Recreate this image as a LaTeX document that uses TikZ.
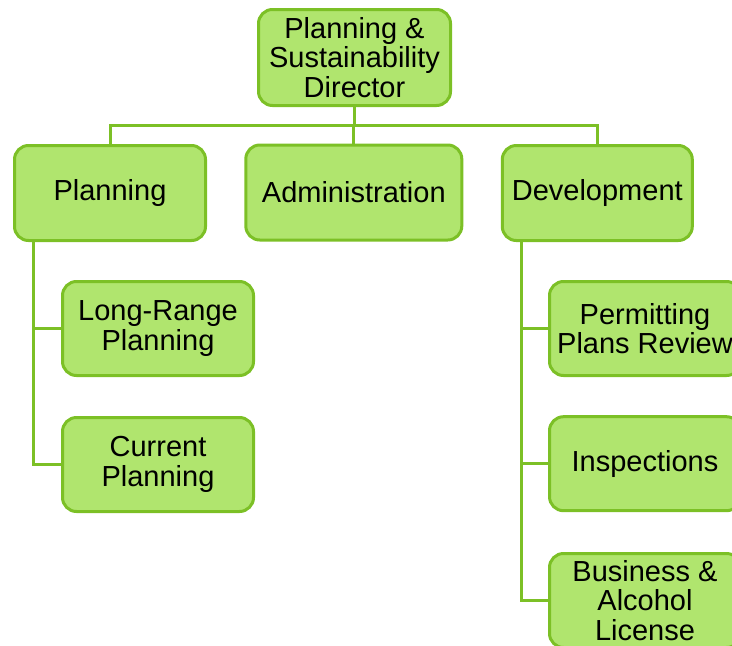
\documentclass[tikz,border=0pt]{standalone}
\usepackage{fontspec}
\setmainfont{Liberation Sans}
\usetikzlibrary{backgrounds}
\definecolor{boxfill}{RGB}{176,229,110}
\definecolor{boxline}{RGB}{124,192,38}
\begin{document}
\begin{tikzpicture}[x=1pt,y=-1pt,
  orgbox/.style={draw=boxline, fill=boxfill, line width=3pt, rounded corners=14pt,
    minimum width=191pt, minimum height=95pt, inner sep=0pt, align=center,
    font=\fontsize{29}{29.5}\selectfont},
  link/.style={draw=boxline, line width=3pt}]
\useasboundingbox (0,0) rectangle (732,646);
\clip (0,0) rectangle (732,646);
\coordinate (bus) at (0,125);
\coordinate (pt) at (33.5,0);
\coordinate (dt) at (521.7,0);
% boxes
\node[orgbox, minimum width=192pt, minimum height=96pt] (top) at (354.5,57.5) {Planning \&\\Sustainability\\Director};
\node[orgbox] (plan) at (110,193) {Planning};
\node[orgbox, minimum width=216pt] (adm) at (353.8,192.5) {Administration};
\node[orgbox, minimum width=190pt] (dev) at (597.3,193) {Development};
\node[orgbox, minimum height=94pt] (lr) at (158,328.5) {Long-Range\\Planning};
\node[orgbox, minimum height=94pt] (cur) at (158,464.5) {Current\\Planning};
\node[orgbox, minimum height=94pt] (perm) at (645,328.5) {Permitting\\Plans Review};
\node[orgbox, minimum height=94pt] (insp) at (645,463.7) {Inspections};
\node[orgbox, minimum height=94pt] (biz) at (645,600.5) {Business \&\\Alcohol\\License};
% connectors
\begin{scope}[on background layer]
\draw[link] (top.south) -- (top.south |- bus);
\draw[link] (plan.north) |- (dev.north |- bus) -- (dev.north);
\draw[link] (adm.north) -- (adm.north |- bus);
\draw[link] (pt |- plan.south) |- (cur.west);
\draw[link] (pt |- lr.west) -- (lr.west);
\draw[link] (dt |- dev.south) |- (biz.west);
\draw[link] (dt |- perm.west) -- (perm.west);
\draw[link] (dt |- insp.west) -- (insp.west);
\end{scope}
\end{tikzpicture}
\end{document}
